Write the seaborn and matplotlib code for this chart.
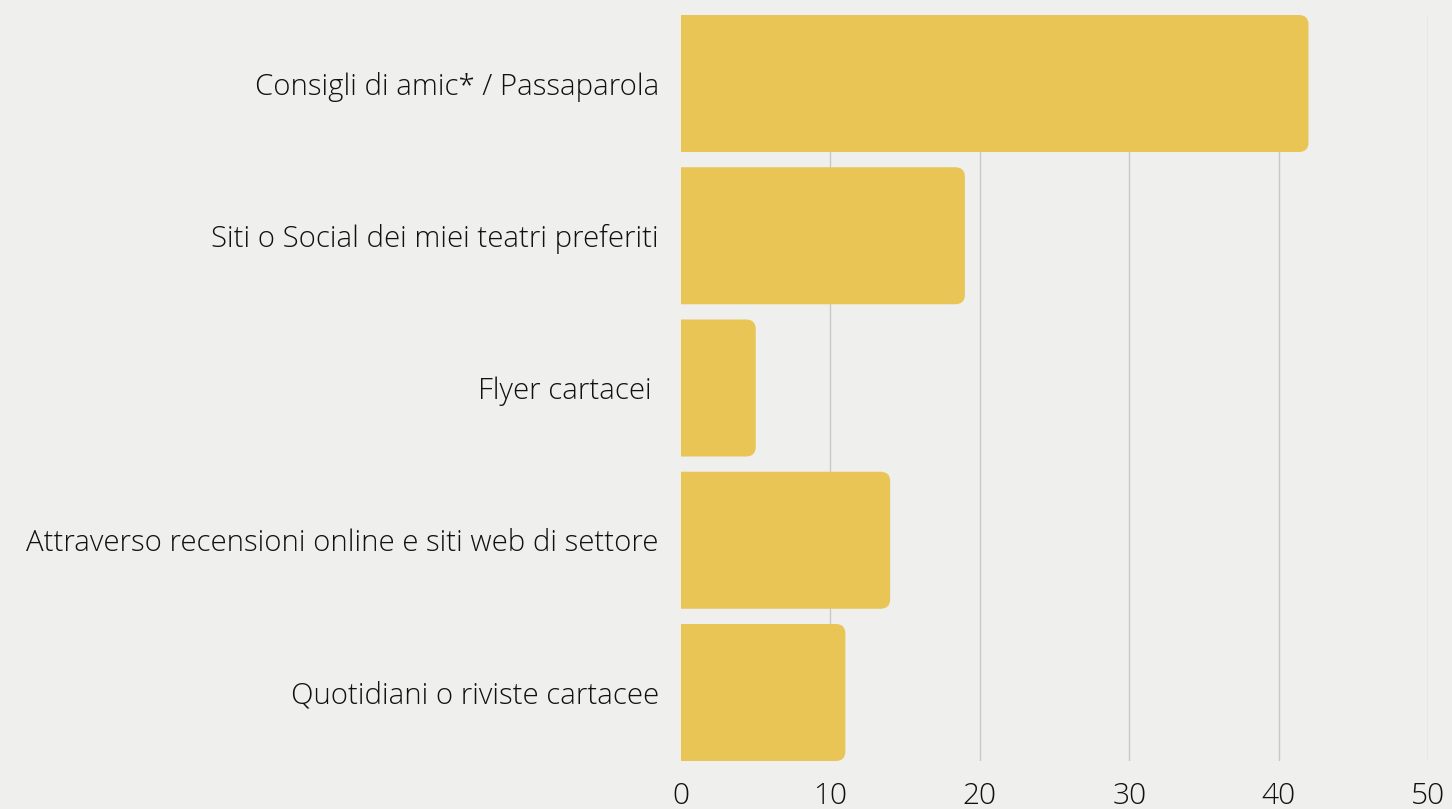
import matplotlib
matplotlib.use("Agg")
import matplotlib.pyplot as plt
import seaborn as sns
import pandas as pd
from matplotlib.patches import FancyBboxPatch

# data
categorie = ["Consigli di amic* / Passaparola",
             "Siti o Social dei miei teatri preferiti",
             "Flyer cartacei ",
             "Attraverso recensioni online e siti web di settore",
             "Quotidiani o riviste cartacee"]
valori = [42, 19, 5, 14, 11]
xticks = [0, 10, 20, 30, 40, 50]

df = pd.DataFrame({"categoria": categorie, "valore": valori})

sns.set_style("white")
plt.rcParams["font.family"] = ["Open Sans", "DejaVu Sans"]

bg = "#efefee"
giallo = "#e8c555"
testo = "#111111"

fig = plt.figure(figsize=(14.52, 8.09), dpi=100, facecolor=bg)
ax = fig.add_axes([681/1452, 1-761/809, (1428-681)/1452, (761-15)/809])
ax.set_facecolor(bg)

sns.barplot(data=df, x="valore", y="categoria", color=giallo,
            width=0.9, saturation=1, ax=ax, zorder=3)

# rounded right corners: swap each bar for a rounded box of same extent
r = 0.65
for p in list(ax.patches):
    x0, y0 = p.get_x(), p.get_y()
    w, h = p.get_width(), p.get_height()
    p.remove()
    box = FancyBboxPatch((x0 - 1.0, y0), w + 1.0, h,
                         boxstyle=f"round,pad=0,rounding_size={r}",
                         mutation_aspect=0.095,
                         facecolor=giallo, edgecolor="none", zorder=3)
    ax.add_patch(box)

ax.set_xlim(0, 50)
ax.set_ylim(4.45, -0.45)
ax.set_xticks(xticks)
ax.set_xticklabels([str(t) for t in xticks])
ax.grid(axis="x", color="#c9c9c9", linewidth=1, zorder=0)
ax.xaxis.get_gridlines()[0].set_visible(False)
ax.set_axisbelow(True)

ax.set_xlabel("")
ax.set_ylabel("")
for s in ax.spines.values():
    s.set_visible(False)

ax.tick_params(axis="y", length=0, pad=16, labelsize=21.2, labelcolor=testo)
ax.tick_params(axis="x", length=0, pad=15, labelsize=21.5, labelcolor=testo)
for t in ax.get_xticklabels() + ax.get_yticklabels():
    t.set_fontweight("light")

fig.savefig("out.png", dpi=100, facecolor=bg)
